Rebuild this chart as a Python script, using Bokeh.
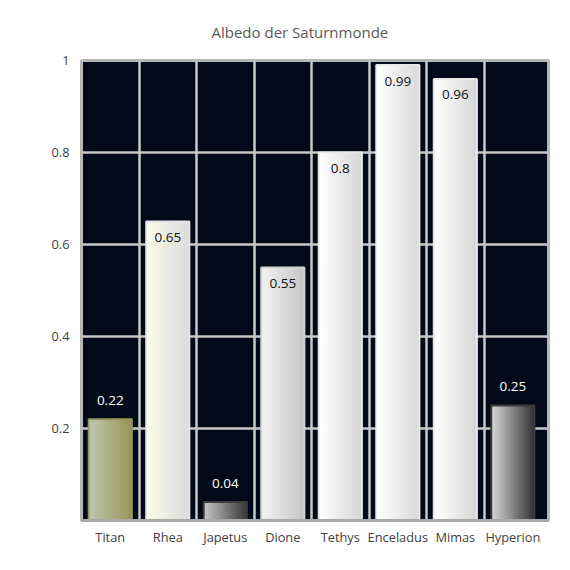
from bokeh.plotting import figure
from bokeh.models import Range1d, FixedTicker, CustomJSTickFormatter
from bokeh.core.properties import value
from bokeh.embed import file_html
from bokeh.resources import INLINE

# ---- data ----
moons = ["Titan", "Rhea", "Japetus", "Dione", "Tethys", "Enceladus", "Mimas", "Hyperion"]
albedo = [0.22, 0.65, 0.04, 0.55, 0.80, 0.99, 0.96, 0.25]
value_labels = ["0.22", "0.65", "0.04", "0.55", "0.8", "0.99", "0.96", "0.25"]
y_ticks = [0.2, 0.4, 0.6, 0.8, 1.0]

# ---- styles (gradient left colour, right colour, border colour) ----
styles = {
    "Titan":     ("#bec6ae", "#989658", "#9a985c"),
    "Rhea":      ("#fbfbea", "#dcdcdc", "#e6e6e6"),
    "Japetus":   ("#c4c4c4", "#3a3a3a", "#3c3c3c"),
    "Dione":     ("#f2f2f2", "#c6c6c6", "#d4d4d4"),
    "Tethys":    ("#ffffff", "#d6d6d6", "#e8e8e8"),
    "Enceladus": ("#ffffff", "#dadada", "#eaeaea"),
    "Mimas":     ("#ffffff", "#d6d6d6", "#e8e8e8"),
    "Hyperion":  ("#d4d4d4", "#363636", "#3a3a3a"),
}

BAR_W = 0.75
NSLICE = 20

def hex2rgb(h):
    h = h.lstrip("#")
    return tuple(int(h[i:i + 2], 16) for i in (0, 2, 4))

def mix(a, b, t):
    ra, rb = hex2rgb(a), hex2rgb(b)
    return "#%02x%02x%02x" % tuple(int(round(ra[k] + (rb[k] - ra[k]) * t)) for k in range(3))

p = figure(width=554, height=554, output_backend="svg", toolbar_location=None,
           x_range=Range1d(-0.5, 7.62), y_range=Range1d(0, 1),
           min_border_left=81, min_border_right=6, min_border_top=60, min_border_bottom=34)

p.background_fill_color = "#020a1a"
p.border_fill_color = "white"
p.outline_line_color = "#b6b6b6"
p.outline_line_width = 3

# title
p.title.text = "Albedo der Saturnmonde"
p.title.text_font = "Open Sans"
p.title.text_font_size = "15px"
p.title.text_font_style = "normal"
p.title.text_color = "#595959"
p.title.align = "left"
p.title.offset = 130
p.title.standoff = 38

# grids
p.xgrid.ticker = FixedTicker(ticks=[i + 0.5 for i in range(len(moons) - 1)])
p.ygrid.ticker = FixedTicker(ticks=y_ticks[:-1])
for g in (p.xgrid, p.ygrid):
    g.grid_line_color = "#c8c8c8"
    g.grid_line_width = 2.5

# axes
p.xaxis.ticker = FixedTicker(ticks=list(range(len(moons))))
p.xaxis.major_label_overrides = {i: m for i, m in enumerate(moons)}
p.yaxis.ticker = FixedTicker(ticks=y_ticks)
p.yaxis.formatter = CustomJSTickFormatter(code="return tick >= 0.999 ? '1' : tick.toFixed(1);")
for ax in (p.xaxis[0], p.yaxis[0]):
    ax.major_tick_line_color = None
    ax.minor_tick_line_color = None
    ax.major_label_text_font = "Open Sans"
    ax.major_label_text_font_size = "12.8px"
    ax.major_label_text_color = "#404040"
p.xaxis.axis_line_color = "#a8a8a8"
p.xaxis.axis_line_width = 3
p.xaxis.major_label_standoff = 1
p.yaxis.axis_line_color = None
p.yaxis.major_label_standoff = 6

# gradient bars built from nested slices (each slice runs to the bar's right edge)
sw = BAR_W / NSLICE
xs, widths, tops, cols = [], [], [], []
for i, (m, v) in enumerate(zip(moons, albedo)):
    c0, c1, _ = styles[m]
    right = i + BAR_W / 2
    for k in range(NSLICE):
        left = i - BAR_W / 2 + sw * k
        xs.append((left + right) / 2)
        widths.append(right - left)
        tops.append(v)
        cols.append(mix(c0, c1, k / (NSLICE - 1)))
p.vbar(x=xs, top=tops, bottom=0, width=widths, fill_color=cols, line_color=None)

# borders
p.vbar(x=list(range(len(moons))), top=albedo, bottom=0, width=BAR_W,
       fill_color=None, line_color=[styles[m][2] for m in moons], line_width=2)

# value labels: inside (dark) for tall bars, above (white) for short bars
inside = [i for i, v in enumerate(albedo) if v > 0.4]
outside = [i for i, v in enumerate(albedo) if v <= 0.4]
p.text(x=inside, y=[albedo[i] for i in inside], text=[value_labels[i] for i in inside],
       text_font=value("Open Sans"), text_font_size="13.5px", text_color="#111111",
       text_align="center", text_baseline="middle", y_offset=16)
p.text(x=outside, y=[albedo[i] for i in outside], text=[value_labels[i] for i in outside],
       text_font=value("Open Sans"), text_font_size="13.5px", text_color="white",
       text_align="center", text_baseline="middle", y_offset=-19)

open("out.html", "w").write(file_html(p, INLINE))
